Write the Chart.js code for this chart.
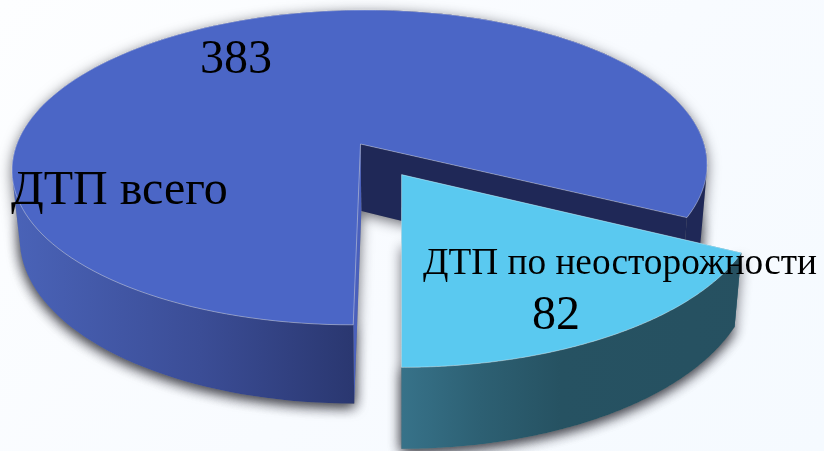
<!DOCTYPE html>
<html>
<head>
<meta charset="utf-8">
<style>
html, body { margin: 0; padding: 0; width: 824px; height: 451px; overflow: hidden; }
body { background: linear-gradient(135deg, #fdfeff 0%, #f8fbff 55%, #f5faff 100%); }
canvas { display: block; }
</style>
<script src="https://cdn.jsdelivr.net/npm/chart.js@4/dist/chart.umd.min.js"></script>
</head>
<body>
<canvas id="pie" width="824" height="451"></canvas>
<script>
const labels = ['ДТП всего', 'ДТП по неосторожности'];
const values = [383, 82];
const topColors = ['#4b66c6', '#5ac9f0'];
const offsets = [0, 46];

// camera for the tilted disc, fitted to the picture
const cam = { vx: 402, xc: -41.5, a: 343.6, k: 0.149, yh: -889, h: 1033, dh: 67, shrink: 0.98 };

function project(u, v, low) {
    const w = 1 - cam.k * v;
    const x = cam.vx + (cam.xc + cam.a * u) / w * (low ? cam.shrink : 1);
    const y = cam.yh + (cam.h + (low ? cam.dh : 0)) / w;
    return [x, y];
}

function arcPoints(arc, from, to, low) {
    const pts = [];
    const steps = 160;
    for (let i = 0; i <= steps; i++) {
        const t = from + (to - from) * i / steps;
        pts.push(project(arc.du + Math.cos(t), arc.dv + Math.sin(t), low));
    }
    return pts;
}

function fillPoly(ctx, pts, fill, line) {
    ctx.beginPath();
    pts.forEach((p, i) => i ? ctx.lineTo(p[0], p[1]) : ctx.moveTo(p[0], p[1]));
    ctx.closePath();
    ctx.fillStyle = fill;
    ctx.fill();
    if (line) {
        ctx.strokeStyle = line;
        ctx.lineWidth = 1;
        ctx.stroke();
    }
}

function signedArea(q) {
    let a = 0;
    q.forEach((p, i) => {
        const n = q[(i + 1) % q.length];
        a += p[0] * n[1] - n[0] * p[1];
    });
    return a;
}

// all wall quads in one path, same winding, so the sides sweep straight down without seams
function wallPath(ctx, rimTop, rimLow) {
    ctx.beginPath();
    for (let s = 0; s < rimTop.length - 1; s++) {
        let q = [rimTop[s], rimTop[s + 1], rimLow[s + 1], rimLow[s]];
        if (signedArea(q) < 0) q = q.reverse();
        q.forEach((p, i) => i ? ctx.lineTo(p[0], p[1]) : ctx.moveTo(p[0], p[1]));
        ctx.closePath();
    }
}

function hGrad(ctx, stops) {
    const g = ctx.createLinearGradient(0, 0, 824, 0);
    stops.forEach(s => g.addColorStop(s[0] / 824, s[1]));
    return g;
}

const gradStops = [
    [[12, '#4a63b8'], [200, '#3b4d96'], [354, '#2a3770'], [355, '#1f2857'], [824, '#1f2857']],
    [[402, '#377289'], [480, '#2d6073'], [560, '#265262'], [824, '#265060']]
];
const innerColors = [['#1f2857', '#4a60bc'], ['#265060', '#367189']];

function drawSlice(ctx, el, i) {
    const p = el.getProps(['startAngle', 'endAngle', 'outerRadius']);
    const mid = (p.startAngle + p.endAngle) / 2;
    const off = el.options.offset / p.outerRadius;
    const arc = { du: Math.cos(mid) * off, dv: Math.sin(mid) * off };
    const a0 = p.startAngle, a1 = p.endAngle;
    const hubTop = project(arc.du, arc.dv, false);
    const hubLow = project(arc.du, arc.dv, true);
    const rimTop = arcPoints(arc, a0, a1, false);
    const rimLow = arcPoints(arc, a0, a1, true);
    const top = [hubTop].concat(rimTop);

    // soft shadow, pushed a little down
    ctx.save();
    ctx.shadowColor = 'rgba(30,30,40,0.65)';
    ctx.shadowBlur = 13;
    ctx.shadowOffsetY = 3;
    fillPoly(ctx, [hubLow].concat(rimLow), '#888');
    wallPath(ctx, rimTop, rimLow);
    ctx.fillStyle = '#888';
    ctx.fill();
    ctx.restore();

    const first = rimTop[0], last = rimTop[rimTop.length - 1];
    const firstLow = rimLow[0], lastLow = rimLow[rimLow.length - 1];
    fillPoly(ctx, [hubTop, last, lastLow, hubLow], innerColors[i][0]);
    fillPoly(ctx, [hubTop, first, firstLow, hubLow], innerColors[i][1]);

    wallPath(ctx, rimTop, rimLow);
    ctx.fillStyle = hGrad(ctx, gradStops[i]);
    ctx.fill();
    fillPoly(ctx, top, topColors[i], 'rgba(255,255,255,0.35)');
}

const textSpots = [
    { value: [236, 73], name: [11, 204], nameSize: 48 },
    { value: [556, 329], name: [423, 274], nameSize: 37.3 }
];

const disc3d = {
    id: 'disc3d',
    beforeDatasetDraw(chart) {
        const ctx = chart.ctx;
        chart.getDatasetMeta(0).data.forEach((el, i) => drawSlice(ctx, el, i));
        ctx.save();
        ctx.fillStyle = '#000';
        ctx.textBaseline = 'alphabetic';
        textSpots.forEach((s, i) => {
            ctx.font = '48px "Liberation Serif"';
            ctx.textAlign = 'center';
            ctx.fillText(String(values[i]), s.value[0], s.value[1]);
            ctx.font = s.nameSize + 'px "Liberation Serif"';
            ctx.textAlign = 'left';
            ctx.fillText(labels[i], s.name[0], s.name[1]);
        });
        ctx.restore();
        return false;
    }
};

new Chart(document.getElementById('pie'), {
    type: 'pie',
    data: {
        labels: labels,
        datasets: [{
            data: values,
            backgroundColor: topColors,
            offset: offsets,
            borderWidth: 0
        }]
    },
    options: {
        responsive: false,
        animation: false,
        rotation: 180,
        plugins: { legend: { display: false }, tooltip: { enabled: false } }
    },
    plugins: [disc3d]
});
</script>
</body>
</html>
